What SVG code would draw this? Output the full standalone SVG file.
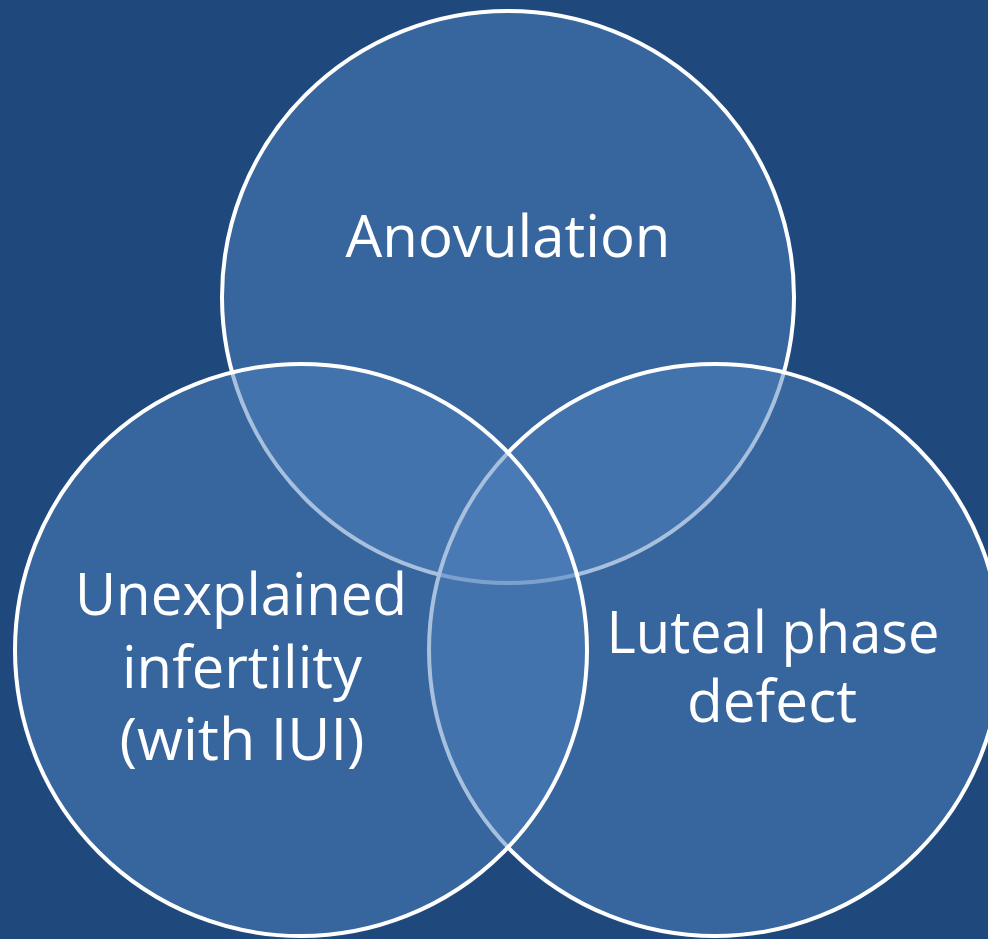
<svg xmlns="http://www.w3.org/2000/svg" width="988" height="939" viewBox="0 0 988 939">
<style>
.c{fill:#4F81BD;fill-opacity:0.5;stroke:#FFFFFF;stroke-width:4}
.t{font-family:"Open Sans","Noto Sans","Liberation Sans",sans-serif;font-size:58px;fill:#FFFFFF;text-anchor:middle}
</style>
<rect x="0" y="0" width="988" height="939" fill="#1F497D"/>
<g id="anovulation">
<circle class="c" cx="508" cy="297" r="286"/>
<text class="t" x="508" y="257" textLength="325" lengthAdjust="spacingAndGlyphs">Anovulation</text>
</g>
<g id="luteal">
<circle class="c" cx="715" cy="650" r="286"/>
<text class="t" x="773" y="653" textLength="333" lengthAdjust="spacingAndGlyphs">Luteal phase</text>
<text class="t" x="772" y="722" textLength="170" lengthAdjust="spacingAndGlyphs">defect</text>
</g>
<g id="unexplained">
<circle class="c" cx="301" cy="650" r="286"/>
<text class="t" x="241" y="615" textLength="332" lengthAdjust="spacingAndGlyphs">Unexplained</text>
<text class="t" x="242" y="688" textLength="240" lengthAdjust="spacingAndGlyphs">infertility</text>
<text class="t" x="242" y="760" textLength="245" lengthAdjust="spacingAndGlyphs">(with IUI)</text>
</g>
<g id="connectors"/>
</svg>
